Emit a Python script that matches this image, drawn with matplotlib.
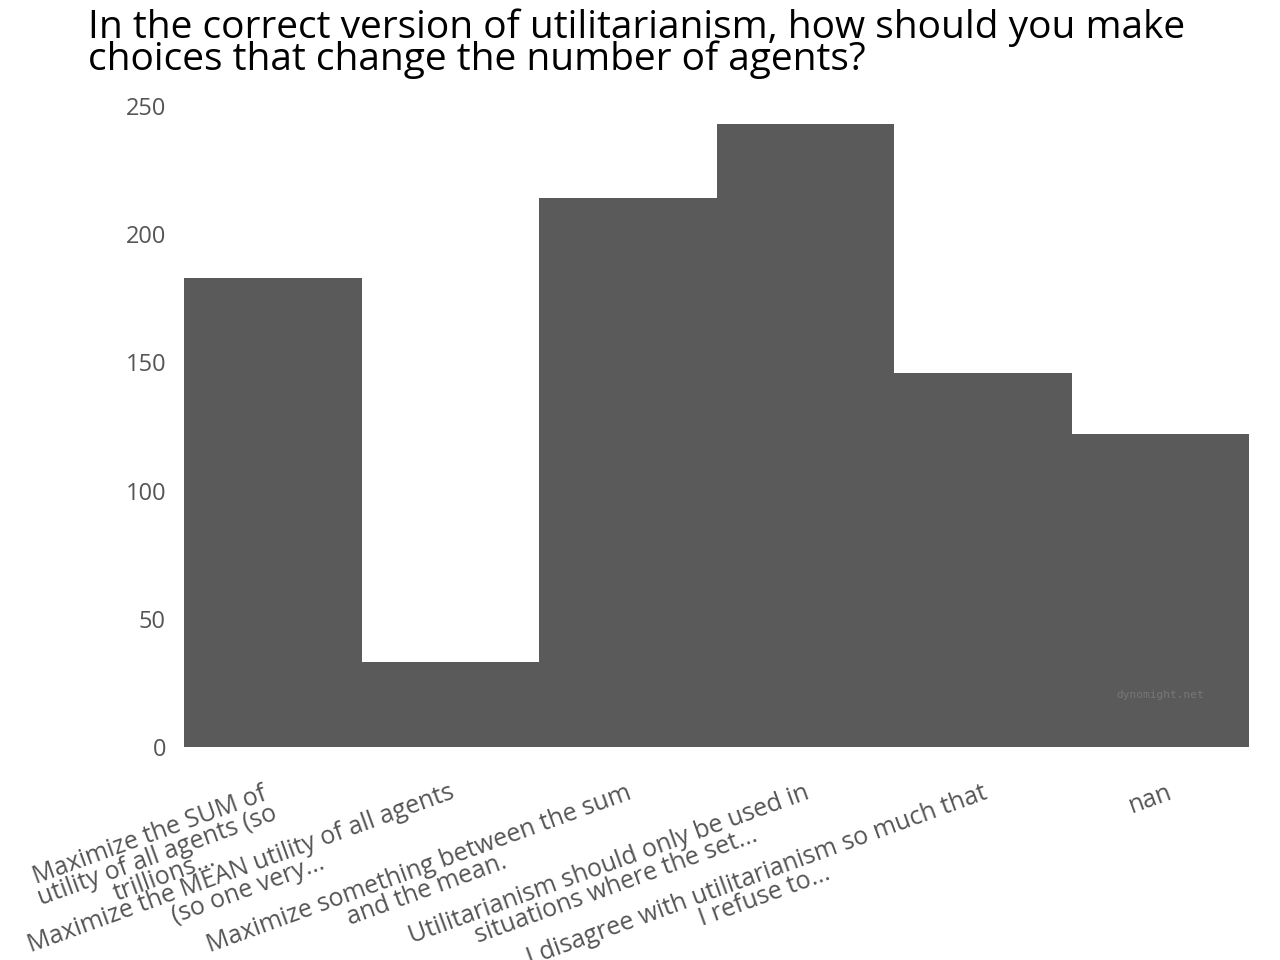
import numpy as np
import matplotlib.pyplot as plt
from matplotlib.transforms import ScaledTranslation

answers = [
    'Maximize the SUM of\nutility of all agents (so\ntrillions...',
    'Maximize the MEAN utility of all agents\n(so one very...',
    'Maximize something between the sum\nand the mean.',
    'Utilitarianism should only be used in\nsituations where the set...',
    'I disagree with utilitarianism so much that\nI refuse to...',
    'nan',
]
counts = [183, 33, 214, 243, 146, 122]

plt.rcParams['font.family'] = ['Open Sans', 'DejaVu Sans']

fig = plt.figure(figsize=(12.8, 9.6), dpi=100)
ax = fig.add_axes([184 / 1280, 1 - 747 / 960, 1065 / 1280, 641 / 960])

x_pos = np.arange(len(answers))
ax.bar(x_pos, counts, width=1.0, color='#5a5a5a')

ax.set_xlim(-0.5, len(answers) - 0.5)
ax.set_ylim(0, 250)
ax.set_yticks([0, 50, 100, 150, 200, 250])
for s in ax.spines.values():
    s.set_visible(False)
ax.tick_params(length=0, labelsize=17, colors='#555555')
ax.tick_params(axis='y', pad=13)
ax.set_xticks(x_pos)
ax.set_xticklabels(answers, rotation=20, ha='right', multialignment='center',
                   linespacing=0.85, fontsize=18)
ax.tick_params(axis='x', pad=24)
# nudge the rotated labels a bit to the right
shift = ScaledTranslation(0.15, 0, fig.dpi_scale_trans)
for lbl in ax.get_xticklabels():
    lbl.set_transform(lbl.get_transform() + shift)

fig.text(88 / 1280, 1 - 8 / 960,
         'In the correct version of utilitarianism, how should you make\n'
         'choices that change the number of agents?',
         fontsize=28, color='black', ha='left', va='top', linespacing=0.8)

ax.text(0.958, 0.081, 'dynomight.net', transform=ax.transAxes, ha='right',
        va='center', family='DejaVu Sans Mono', fontsize=8, color='#777777')

fig.savefig('out.png', dpi=100)
